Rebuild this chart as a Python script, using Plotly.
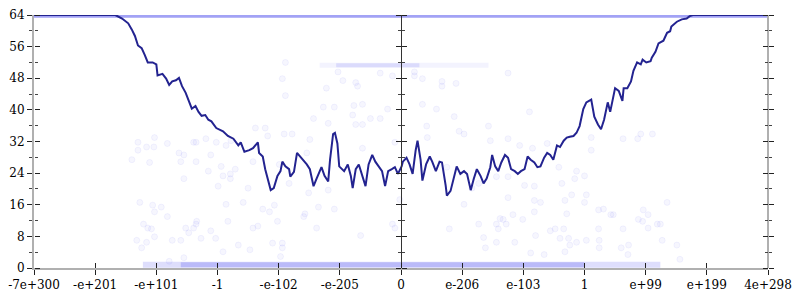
import plotly.graph_objects as go

# ---- axis ticks ----
x_tick_pos = [-6, -5, -4, -3, -2, -1, 0, 1, 2, 3, 4, 5, 6]
x_tick_text = ["-7e+300", "-e+201", "-e+101", "-1", "-e-102", "-e-205", "0",
               "e-206", "e-103", "1", "e+99", "e+199", "4e+298"]

# ---- main line (index position, value) ----
line_x = [-6.00, -4.67, -4.56, -4.46, -4.40, -4.35, -4.30, -4.24, -4.19, -4.14, -4.06, -4.00,
          -3.98, -3.90, -3.84, -3.79, -3.74, -3.68, -3.63, -3.58, -3.52, -3.47, -3.42, -3.36,
          -3.31, -3.26, -3.20, -3.15, -3.10, -3.02, -2.91, -2.83, -2.74, -2.66, -2.62, -2.56,
          -2.48, -2.42, -2.38, -2.34, -2.32, -2.26, -2.22, -2.18, -2.13, -2.08, -2.02, -1.97,
          -1.94, -1.89, -1.83, -1.81, -1.75, -1.70, -1.65, -1.59, -1.54, -1.49, -1.43, -1.38,
          -1.33, -1.30, -1.25, -1.19, -1.16, -1.11, -1.08, -1.04, -1.01, -0.93, -0.87, -0.82,
          -0.79, -0.74, -0.69, -0.63, -0.58, -0.53, -0.47, -0.42, -0.37, -0.31, -0.26, -0.21,
          -0.15, -0.10, -0.05, 0.01, 0.03, 0.09, 0.14, 0.19, 0.24, 0.27, 0.32, 0.35, 0.41,
          0.47, 0.51, 0.57, 0.63, 0.67, 0.73, 0.75, 0.81, 0.87, 0.91, 0.97, 1.03, 1.08, 1.14,
          1.19, 1.24, 1.30, 1.35, 1.40, 1.46, 1.49, 1.54, 1.59, 1.64, 1.70, 1.75, 1.80, 1.86,
          1.91, 1.96, 2.02, 2.07, 2.12, 2.18, 2.23, 2.28, 2.34, 2.39, 2.44, 2.49, 2.55, 2.60,
          2.66, 2.71, 2.76, 2.82, 2.87, 2.92, 2.98, 3.03, 3.11, 3.16, 3.22, 3.27, 3.32, 3.38,
          3.42, 3.46, 3.50, 3.56, 3.62, 3.64, 3.70, 3.76, 3.80, 3.86, 3.92, 3.95, 4.01, 4.08,
          4.10, 4.16, 4.21, 4.29, 4.35, 4.40, 4.42, 4.51, 4.59, 4.67, 4.72, 4.77, 6.00]
line_y = [64.0, 64.0, 63.1, 61.9, 60.3, 58.7, 56.3, 55.6, 53.9, 52.0, 52.0, 51.5,
          48.7, 49.1, 47.9, 46.3, 47.2, 47.5, 48.1, 46.0, 44.3, 42.3, 40.3, 41.0,
          39.5, 38.5, 38.7, 37.5, 37.1, 35.4, 34.6, 33.4, 32.7, 31.0, 31.8, 29.4,
          29.8, 30.3, 31.0, 31.8, 29.1, 28.2, 25.0, 22.6, 19.7, 20.2, 23.3, 24.5,
          26.9, 25.7, 25.0, 23.1, 24.3, 29.1, 28.2, 26.9, 26.2, 25.0, 20.7, 22.6,
          24.5, 25.5, 23.3, 21.9, 27.4, 33.9, 34.2, 31.5, 25.7, 24.5, 26.2, 23.3,
          20.2, 25.0, 26.2, 23.3, 20.7, 26.2, 28.6, 26.9, 25.7, 24.5, 20.7, 24.5,
          25.0, 25.5, 23.8, 25.7, 26.9, 27.9, 26.2, 23.8, 29.8, 32.2, 27.4, 22.1, 26.2,
          28.2, 26.9, 24.5, 26.9, 26.7, 20.9, 18.3, 19.5, 23.1, 25.7, 23.8, 24.5, 23.8, 19.7,
          22.6, 25.0, 23.3, 21.4, 22.6, 25.5, 28.6, 25.7, 24.5, 26.7, 28.6, 27.9, 25.0, 24.5,
          23.8, 24.5, 25.0, 28.2, 27.4, 26.7, 25.5, 25.7, 27.9, 29.1, 28.6, 27.4, 31.0, 30.6,
          32.2, 33.0, 33.2, 33.4, 34.2, 35.9, 40.2, 41.9, 42.6, 38.3, 36.3, 35.1, 37.5, 41.9,
          39.5, 42.6, 45.5, 44.8, 42.3, 45.5, 45.5, 47.2, 49.9, 52.0, 51.5, 52.7, 52.0, 52.3,
          53.2, 54.7, 56.8, 57.5, 59.5, 59.9, 61.1, 62.3, 62.9, 63.1, 63.7, 64.0, 64.0]

# ---- dense bands of points (extent) ----
top_band_x = [-6.0, 6.0]
top_band_y = [63.8, 63.8]
bottom_band_x = [-4.22, 4.24]
bottom_band_y = [0.8, 0.8]
bottom_core_x = [-3.6, 3.0]
bottom_core_y = [0.8, 0.8]
mid_band_x = [-1.33, 1.43]
mid_band_y = [51.3, 51.3]
mid_core_x = [-1.06, 0.30]
mid_core_y = [51.3, 51.3]

# ---- sparse points ----
pts_x = [-4.27, -4.06, -4.03, -3.82, -3.92, -4.21, -4.14, -4.08, -4.24, -4.16, -4.32, -4.03,
         -3.74, -3.60, -3.47, -3.52, -3.39, -3.35, -3.34, -3.27, -3.55, -3.79,
         -2.86, -2.58, -2.26, -2.15, -2.07, -2.83, -2.02, -1.57, -1.59, -1.35, -1.09, -2.42,
         -2.34, -1.38, -3.11, -3.03, -2.66, -2.47, -2.10, -1.94, -1.94, -0.66, -0.14, -0.10,
         -2.91, -1.97,
         0.79, 1.03, 1.27, 1.35, 1.38, 1.56, 1.59, 1.56, 1.62, 1.67, 1.72, 1.83, 1.86, 1.99,
         2.18, 2.20, 2.12, 2.34, 2.44, 2.52, 2.60, 2.66, 2.71, 2.74, 2.76, 2.68, 2.87, 3.00,
         3.23, 3.31, 3.43, 3.23, 3.24, 3.24, 3.03, 2.28, 2.68, 2.18,
         3.47, 3.96, 4.04, 3.88, 3.95, 4.04, 4.19, 4.24, 4.35, 3.63, 3.72, 3.60, 3.71, 4.27,
         4.51, 4.56,
         -1.27, -1.09, -0.77, -0.63, -0.22, -1.43, -0.79, -0.50, -0.34, -1.19, -0.74, -0.63,
         -2.38, -2.22, -1.91, -1.78, -1.49, -2.18, -3.35, -3.19, -3.02, -2.78, -2.86, -0.63,
         -1.54, -0.10, -3.55, -3.11, -2.42, -1.99, -3.35, -2.94, -2.71, -3.15, -2.91, -2.79,
         -2.79, -3.55, -1.83, -2.99, -2.50, -1.51, -1.19,
         -1.89, -1.94, -1.89, -4.30, -4.03, -4.16, -4.04, -4.30, -3.82, -3.39, -3.63, -4.40,
         -4.11, -3.60,
         0.35, 0.58, 0.87, 1.43, 2.10, 0.95, 1.03, 0.42, 0.43, 1.46, 1.75, 1.94, 2.15, 2.39,
         3.11, 0.75, 1.75, 2.02, 2.18, 1.56, 2.58, 2.87, 2.84, 3.00, 2.63, 2.79, 3.03, 1.75,
         1.16, 1.27, -0.02,
         3.11, 3.63, 3.87, 3.92, 4.11,
         -1.03, -0.95, -0.74, -0.71, -0.34, -0.14, 0.22, 0.22, 0.67, 0.67, 0.35, 0.90, 1.75,
         -1.22]
pts_y = [16.6, 15.9, 14.2, 13.0, 15.4, 11.1, 10.1, 9.9, 5.1, 6.5, 7.0, 7.9,
         7.0, 7.0, 8.9, 10.1, 10.1, 11.1, 11.8, 7.5, 2.6, 1.7,
         16.1, 16.6, 14.9, 14.2, 15.9, 11.8, 11.8, 13.7, 13.0, 15.4, 14.9, 10.1,
         10.6, 10.1, 9.4, 7.5, 5.8, 4.6, 6.3, 6.3, 5.1, 8.2, 11.1, 10.1,
         4.1, 2.9,
         9.9, 16.1, 11.1, 7.7, 5.1, 11.1, 9.9, 6.5, 12.5, 12.3, 11.1, 13.5, 6.5, 12.3,
         14.2, 8.2, 3.8, 3.4, 9.4, 9.9, 7.5, 9.9, 13.7, 7.5, 5.8, 4.1, 6.5, 16.6,
         14.7, 14.9, 13.5, 9.9, 7.0, 5.1, 7.0, 16.6, 17.1, 17.1,
         13.5, 14.7, 13.5, 12.3, 11.8, 10.1, 11.1, 11.1, 16.6, 9.9, 5.8, 5.1, 3.4, 7.0,
         5.8, 2.2,
         40.7, 40.7, 41.1, 41.4, 40.2, 37.8, 38.7, 37.8, 37.8, 36.6, 36.3, 36.3,
         35.4, 35.4, 33.9, 33.9, 32.5, 33.4, 31.8, 32.7, 31.8, 32.2, 31.0, 30.3,
         29.1, 31.8, 28.6, 28.6, 26.9, 26.2, 26.9, 25.7, 25.0, 24.5, 23.3, 23.8,
         22.6, 22.6, 21.4, 20.7, 20.2, 19.0, 19.7,
         52.0, 47.9, 43.6, 31.8, 33.0, 30.6, 30.6, 29.8, 31.5, 31.8, 29.1, 27.4,
         26.7, 26.9,
         41.4, 40.2, 38.3, 35.9, 39.5, 34.6, 33.9, 35.9, 33.0, 32.2, 32.7, 31.0, 30.3, 31.5,
         29.8, 25.5, 23.1, 20.9, 20.7, 23.1, 25.5, 24.5, 22.6, 23.3, 21.4, 18.5, 18.5, 17.8,
         20.2, 21.4, 17.3,
         33.0, 32.7, 32.7, 33.9, 33.9,
         49.6, 47.4, 46.9, 46.0, 49.3, 48.6, 49.6, 48.6, 47.2, 46.0, 47.9, 46.7, 49.3,
         45.5]

FONT = "DejaVu Serif"
fig = go.Figure()

fig.add_trace(go.Scatter(x=pts_x, y=pts_y, mode="markers",
                         marker=dict(size=6, color="rgba(80,80,240,0.05)",
                                     line=dict(width=0.7, color="rgba(80,80,240,0.09)")),
                         hoverinfo="skip", showlegend=False))
for bx, by, w, c in [(top_band_x, top_band_y, 4, "rgba(70,70,235,0.50)"),
                     (bottom_band_x, bottom_band_y, 6, "rgba(90,90,240,0.20)"),
                     (bottom_core_x, bottom_core_y, 5, "rgba(80,80,240,0.25)"),
                     (mid_band_x, mid_band_y, 5, "rgba(90,90,240,0.07)"),
                     (mid_core_x, mid_core_y, 4, "rgba(80,80,240,0.14)")]:
    fig.add_trace(go.Scatter(x=bx, y=by, mode="lines", line=dict(width=w, color=c),
                             hoverinfo="skip", showlegend=False))

fig.add_trace(go.Scatter(x=line_x, y=line_y, mode="lines",
                         line=dict(color="#232390", width=2),
                         showlegend=False))

# empty traces so that the extra (tick-only) axes get drawn
for ya in ["y2", "y3", "y4", "y5", "y6"]:
    fig.add_trace(go.Scatter(x=[None], y=[None], yaxis=ya, mode="markers",
                             showlegend=False, hoverinfo="skip"))
fig.add_trace(go.Scatter(x=[None], y=[None], xaxis="x2", mode="markers",
                         showlegend=False, hoverinfo="skip"))

yr = [0, 64]
xr = [-6, 6]
ytick_common = dict(range=yr, tickmode="linear", tick0=0, dtick=8, ticklen=5,
                    tickcolor="#222", tickwidth=1, showgrid=False, zeroline=False,
                    minor=dict(tick0=0, dtick=4, ticklen=3, tickcolor="#444", ticks="outside"))

fig.update_layout(
    width=800, height=300,
    margin=dict(l=27, r=26, t=8, b=26),
    paper_bgcolor="white", plot_bgcolor="white",
    showlegend=False,
    xaxis=dict(range=xr, tickmode="array", tickvals=x_tick_pos, ticktext=x_tick_text,
               ticks="outside", ticklen=5, tickcolor="#222", tickwidth=1,
               showline=True, linecolor="#b0b0b0", linewidth=2,
               showgrid=False, zeroline=False,
               tickfont=dict(family=FONT, size=12, color="black")),
    xaxis2=dict(range=xr, overlaying="x", anchor="y", side="bottom",
                tickmode="array", tickvals=x_tick_pos, ticks="inside", ticklen=5,
                tickcolor="#222", showticklabels=False, showline=False,
                showgrid=False, zeroline=False),
    yaxis=dict(**ytick_common, ticks="outside", side="left",
               showline=True, linecolor="#b0b0b0", linewidth=2,
               tickfont=dict(family=FONT, size=12, color="black")),
    yaxis2=dict(**ytick_common, ticks="outside", overlaying="y", anchor="free",
                position=0, side="right", showticklabels=False, showline=False),
    yaxis3=dict(**ytick_common, ticks="outside", overlaying="y", anchor="free",
                position=1, side="right", showticklabels=False,
                showline=True, linecolor="#b0b0b0", linewidth=2),
    yaxis4=dict(**ytick_common, ticks="outside", overlaying="y", anchor="free",
                position=1, side="left", showticklabels=False, showline=False),
    yaxis5=dict(**ytick_common, ticks="outside", overlaying="y", anchor="free",
                position=0.5, side="left", showticklabels=False,
                showline=True, linecolor="#333", linewidth=1),
    yaxis6=dict(**ytick_common, ticks="outside", overlaying="y", anchor="free",
                position=0.5, side="right", showticklabels=False, showline=False),
)

fig.write_html("out.html")
